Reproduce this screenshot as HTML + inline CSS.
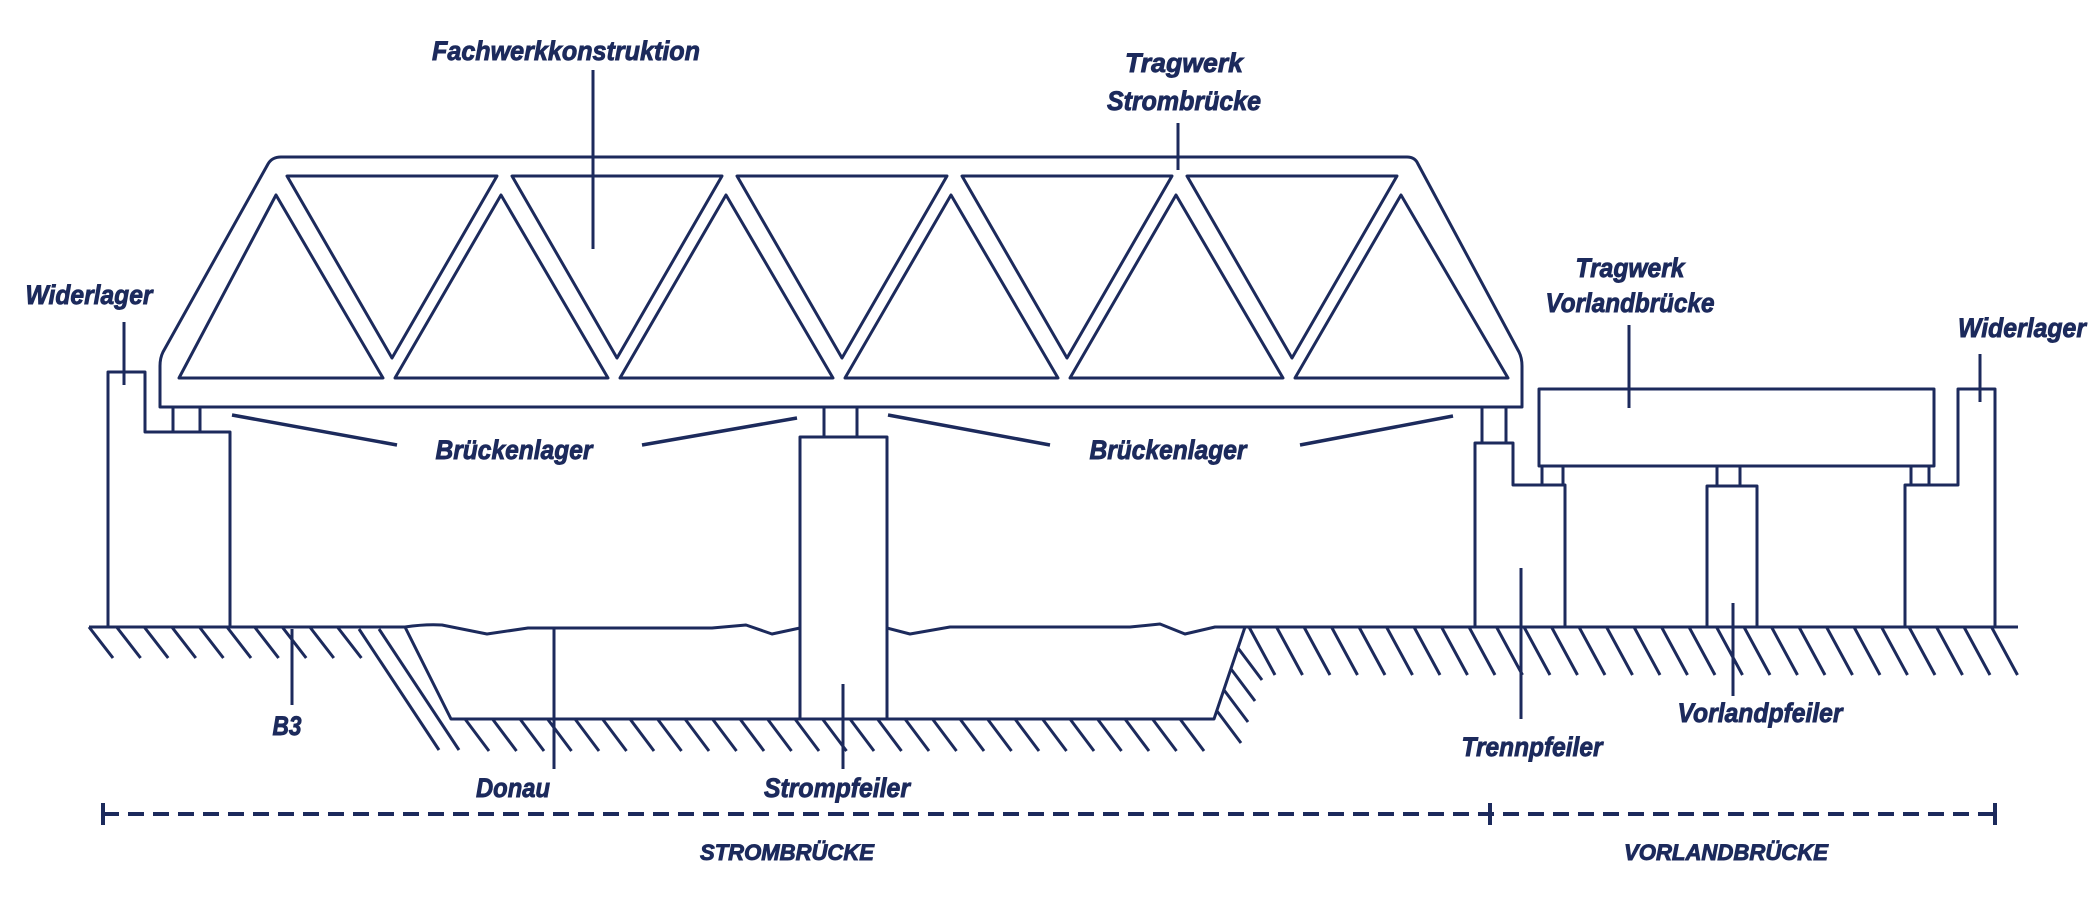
<!DOCTYPE html>
<html><head><meta charset="utf-8"><style>
html,body{margin:0;padding:0;background:#fff;}
svg{display:block;}
text{font-family:"Liberation Sans",sans-serif;font-weight:bold;font-style:italic;fill:#1c2a5c;stroke:#1c2a5c;stroke-width:0.9;}
</style></head><body>
<svg id="s" width="2100" height="900" viewBox="0 0 2100 900" xmlns="http://www.w3.org/2000/svg">
<g id="g" fill="none" stroke="#1c2a5c" stroke-width="3" stroke-linejoin="round">
<path d="M160 407 L160 366 Q160 358 163 352 L268 164 Q272 157 281 157 L1407 157 Q1415 157 1418 164 L1519 352 Q1522 358 1522 366 L1522 407 Z"/>
<path d="M108 627 L108 372 L145 372 L145 432 L230 432 L230 627"/>
<line x1="173" y1="407" x2="173" y2="432"/><line x1="200" y1="407" x2="200" y2="432"/>
<rect x="800" y="437" width="87" height="282"/>
<line x1="824" y1="407" x2="824" y2="437"/><line x1="857" y1="407" x2="857" y2="437"/>
<path d="M1475 627 L1475 443 L1513 443 L1513 485 L1565 485 L1565 627"/>
<line x1="1482" y1="407" x2="1482" y2="443"/><line x1="1506" y1="407" x2="1506" y2="443"/>
<rect x="1539" y="389" width="395" height="77"/>
<line x1="1542" y1="466" x2="1542" y2="485"/><line x1="1563" y1="466" x2="1563" y2="485"/>
<line x1="1717" y1="466" x2="1717" y2="486"/><line x1="1740" y1="466" x2="1740" y2="486"/>
<line x1="1911" y1="466" x2="1911" y2="485"/><line x1="1929" y1="466" x2="1929" y2="485"/>
<rect x="1707" y="486" width="50" height="141"/>
<path d="M1905 627 L1905 485 L1958 485 L1958 389 L1995 389 L1995 627"/>
<line x1="89" y1="627" x2="405" y2="627"/>
<line x1="1245" y1="627" x2="2018" y2="627"/>
<path d="M405 627 L451 719 L1214 719 L1245 627"/>
<path d="M405 627 Q425 624 442 625 L487 634 L528 628 L712 628 L746 625 L772 634 L800 628"/>
<path d="M887 628 L910 634 L950 627 L1130 627 L1160 624 L1185 634 L1215 627 L1245 627"/>
<line x1="359" y1="629" x2="439" y2="750"/><line x1="379" y1="629" x2="459" y2="750"/>
<line x1="1238" y1="648" x2="1262" y2="680"/><line x1="1231" y1="669" x2="1255" y2="701"/><line x1="1224" y1="690" x2="1248" y2="722"/><line x1="1217" y1="711" x2="1241" y2="743"/>
<line x1="593" y1="70" x2="593" y2="249"/>
<line x1="1178" y1="123" x2="1178" y2="170"/>
<line x1="124" y1="322" x2="124" y2="385"/>
<line x1="232" y1="415" x2="397" y2="445" stroke-width="3.5"/>
<line x1="642" y1="445" x2="797" y2="418" stroke-width="3.5"/>
<line x1="888" y1="415" x2="1050" y2="445" stroke-width="3.5"/>
<line x1="1300" y1="445" x2="1453" y2="416" stroke-width="3.5"/>
<line x1="292" y1="629" x2="292" y2="705"/>
<line x1="554" y1="629" x2="554" y2="769"/>
<line x1="843" y1="684" x2="843" y2="769"/>
<line x1="1629" y1="325" x2="1629" y2="408"/>
<line x1="1980" y1="354" x2="1980" y2="402"/>
<line x1="1521" y1="568" x2="1521" y2="719"/>
<line x1="1733" y1="603" x2="1733" y2="696"/>
<line x1="103" y1="814" x2="1995" y2="814" stroke-width="4" stroke-dasharray="16 9"/>
<line x1="103" y1="803" x2="103" y2="825" stroke-width="4"/>
<line x1="1490" y1="803" x2="1490" y2="825" stroke-width="4"/>
<line x1="1995" y1="803" x2="1995" y2="825" stroke-width="4"/>
</g>
<text x="566" y="60" font-size="27" text-anchor="middle" textLength="268" lengthAdjust="spacingAndGlyphs">Fachwerkkonstruktion</text>
<text x="1184" y="72" font-size="27" text-anchor="middle" textLength="118" lengthAdjust="spacingAndGlyphs">Tragwerk</text>
<text x="1184" y="110" font-size="27" text-anchor="middle" textLength="154" lengthAdjust="spacingAndGlyphs">Strombrücke</text>
<text x="89" y="304" font-size="27" text-anchor="middle" textLength="127" lengthAdjust="spacingAndGlyphs">Widerlager</text>
<text x="514" y="459" font-size="27" text-anchor="middle" textLength="157" lengthAdjust="spacingAndGlyphs">Brückenlager</text>
<text x="1168" y="459" font-size="27" text-anchor="middle" textLength="157" lengthAdjust="spacingAndGlyphs">Brückenlager</text>
<text x="287" y="735" font-size="27" text-anchor="middle" textLength="29" lengthAdjust="spacingAndGlyphs">B3</text>
<text x="513" y="797" font-size="27" text-anchor="middle" textLength="74" lengthAdjust="spacingAndGlyphs">Donau</text>
<text x="837" y="797" font-size="27" text-anchor="middle" textLength="146" lengthAdjust="spacingAndGlyphs">Strompfeiler</text>
<text x="1532" y="756" font-size="27" text-anchor="middle" textLength="141" lengthAdjust="spacingAndGlyphs">Trennpfeiler</text>
<text x="1760" y="722" font-size="27" text-anchor="middle" textLength="165" lengthAdjust="spacingAndGlyphs">Vorlandpfeiler</text>
<text x="1630" y="277" font-size="27" text-anchor="middle" textLength="109" lengthAdjust="spacingAndGlyphs">Tragwerk</text>
<text x="1630" y="312" font-size="27" text-anchor="middle" textLength="169" lengthAdjust="spacingAndGlyphs">Vorlandbrücke</text>
<text x="2022" y="337" font-size="27" text-anchor="middle" textLength="128" lengthAdjust="spacingAndGlyphs">Widerlager</text>
<text x="787" y="860" font-size="22" text-anchor="middle" textLength="174" lengthAdjust="spacingAndGlyphs">STROMBRÜCKE</text>
<text x="1726" y="860" font-size="22" text-anchor="middle" textLength="204" lengthAdjust="spacingAndGlyphs">VORLANDBRÜCKE</text>
</svg>
<script>
(function(){
var g=document.getElementById('g'),NS='http://www.w3.org/2000/svg';
function L(a,b,c,d){var l=document.createElementNS(NS,'line');l.setAttribute('x1',a);l.setAttribute('y1',b);l.setAttribute('x2',c);l.setAttribute('y2',d);g.appendChild(l);}
function P(pts){var p=document.createElementNS(NS,'polygon');p.setAttribute('points',pts);g.appendChild(p);}
var i,x;
for(i=0;i<6;i++){P((276+225*i)+',195 '+(383+225*i)+',378 '+(170+225*i+(i==0?9:0))+',378');}
for(i=0;i<5;i++){P((287+225*i)+',176 '+(497+225*i)+',176 '+(392+225*i)+',358');}
for(x=89;x<=340;x+=27.6)L(x,627,x+24,658);
for(x=465;x<=1200;x+=27.5)L(x,719,x+24,751);
for(x=1249;x<=2000;x+=27.5)L(x,627,x+26,675);
})();
</script>
</body></html>
